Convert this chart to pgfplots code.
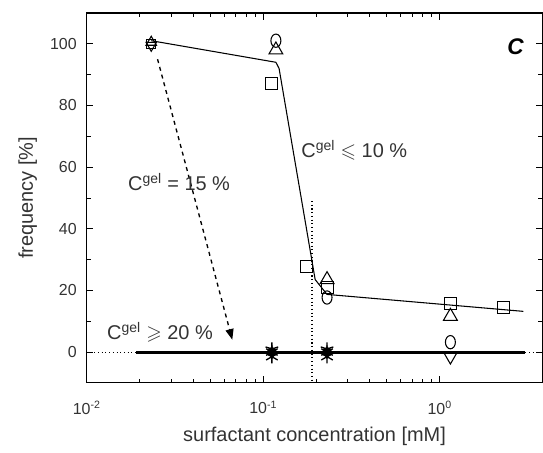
\documentclass[border=0pt]{standalone}
\usepackage{pgfplots}
\pgfplotsset{compat=1.18}
\usepackage{amssymb}
\usepackage{fontspec}
\setmainfont{Liberation Sans}
\usetikzlibrary{calc,arrows.meta}
\definecolor{txt}{HTML}{333333}
\begin{document}
\begin{tikzpicture}
\begin{axis}[
  name=ax, scale only axis, width=342.75pt, height=278.25pt,
  xmode=log, xmin=0.01, xmax=3.82, ymin=-10, ymax=110,
  xtick={0.01,0.1,1}, xticklabels={10\textsuperscript{-2},10\textsuperscript{-1},10\textsuperscript{0}},
  ytick={0,20,40,60,80,100}, minor y tick num=1,
  /pgf/number format/assume math mode=true,
  tick label style={font=\fontsize{12}{14}\selectfont, text=txt},
  xticklabel style={yshift=-10pt},
  yticklabel style={xshift=-4pt},
  label style={font=\fontsize{15}{18}\selectfont, text=txt},
  xlabel={surfactant concentration [mM]},
  ylabel={frequency [\%]},
  xlabel style={at={(axis description cs:0.5,0)}, anchor=center, yshift=-40.5pt},
  ylabel style={yshift=3pt},
  tick style={black, line width=0.6pt},
  major tick length=5pt, minor tick length=3pt,
  axis line style={line width=0.9pt},
  clip=false,
]
% fit line
\addplot[black, line width=0.8pt] coordinates {(0.0232,101) (0.118,94) (0.123,92) (0.197,23.5) (0.230,18.7) (2.98,13.2)};
% thick zero line
\addplot[black, line width=2.2pt] coordinates {(0.0191,0) (3.06,0)};
\addplot[black, line width=0.8pt, dotted] coordinates {(0.01,0) (0.0191,0)};
\addplot[black, line width=0.8pt, dotted] coordinates {(3.06,0) (3.82,0)};
% vertical dotted line
\addplot[black, line width=0.8pt, dotted] coordinates {(0.189,49) (0.189,-10)};
% dashed arrow
\addplot[black, line width=1pt, dash pattern=on 3pt off 3pt, -{Triangle[length=8pt,width=6pt]}] coordinates {(0.0252,95) (0.0668,4)};
% squares
\addplot[only marks, mark=square, mark size=4.5pt, black, mark options={line width=0.8pt, fill=white}] coordinates {(0.112,87) (0.175,27.7) (0.230,21) (1.15,15.8) (2.30,14.5)};
\addplot[only marks, mark=square, mark size=3.5pt, black, mark options={line width=0.8pt}] coordinates {(0.0232,100)};
% triangles up
\addplot[only marks, mark=triangle, mark size=6pt, black, mark options={line width=0.8pt}] coordinates {(0.118,98) (0.230,23.5) (1.15,11.6)};
\addplot[only marks, mark=triangle, mark size=4.5pt, black, mark options={line width=0.8pt}] coordinates {(0.0232,100.5)};
% circles
\addplot[only marks, mark=o, mark size=5pt, black, mark options={line width=0.8pt, xscale=0.75}] coordinates {(0.118,101) (0.230,17.7) (1.15,3.2)};
% triangles down
\addplot[only marks, mark=triangle, mark size=6pt, black, mark options={line width=0.8pt, rotate=180}] coordinates {(1.15,-1.3)};
\addplot[only marks, mark=triangle, mark size=4.5pt, black, mark options={line width=0.8pt, rotate=180}] coordinates {(0.0232,99.5)};
% star clusters
\addplot[only marks, mark=asterisk, mark size=5pt, black, mark options={line width=1pt}] coordinates {(0.112,0) (0.230,0) (0.112,-1.5) (0.230,-1.5)};
\addplot[only marks, mark=star, mark size=5pt, black, mark options={line width=1pt}] coordinates {(0.112,1) (0.230,1)};
\addplot[only marks, mark=*, mark size=3.5pt, black] coordinates {(0.112,0) (0.230,0)};
% labels
\node[anchor=west, text=txt, font=\fontsize{15}{17}\selectfont, inner sep=0pt] at (axis cs:0.164,65.5) {C\textsuperscript{gel} $\leqslant$ 10 \%};
\node[anchor=west, text=txt, font=\fontsize{15}{17}\selectfont, inner sep=0pt] at (axis cs:0.0171,55) {C\textsuperscript{gel} = 15 \%};
\node[anchor=west, text=txt, font=\fontsize{15}{17}\selectfont, inner sep=0pt] at (axis cs:0.0130,6.5) {C\textsuperscript{gel} $\geqslant$ 20 \%};
\node[font=\fontsize{17}{19}\selectfont\bfseries\itshape] at (axis cs:2.69,99) {C};
\end{axis}
\path[use as bounding box] ($(ax.south west)+(-65.25pt,-52.5pt)$) rectangle ($(ax.north east)+(-0.75pt,9.75pt)$);
\end{tikzpicture}
\end{document}
